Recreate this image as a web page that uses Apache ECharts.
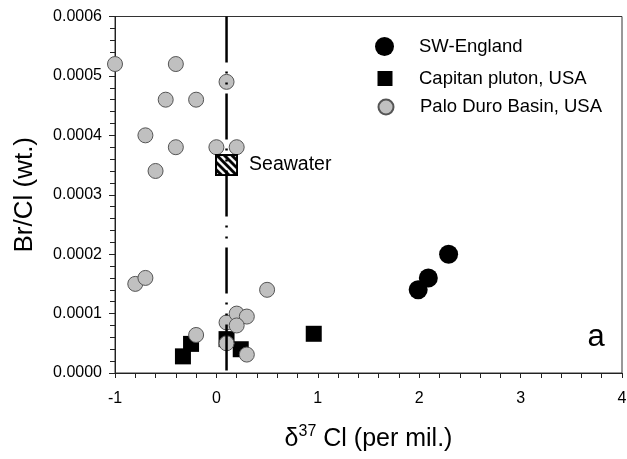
<!DOCTYPE html>
<html>

<head>
    <meta charset="UTF-8">
    <style type="text/css">
        body {
            margin: 0;
            padding: 0;
            overflow: hidden;
            background: #fff;
        }

        #chart {
            width: 627px;
            height: 459px;
            position: absolute
        }
    </style>
</head>

<body>
    <div id="chart"></div>
    <script src="https://cdn.jsdelivr.net/npm/echarts@6/dist/echarts.min.js"></script>
    <script>
        // data
        let SW_X = [1.99, 2.09, 2.29];
        let SW_Y = [0.00014, 0.00016, 0.0002];
        let CAP_X = [-0.33, -0.25, 0.1, 0.24, 0.96];
        let CAP_Y = [0.000028, 0.000049, 0.000057, 0.00004, 0.000066];
        let PALO_X = [-1.0, -0.4, 0.1, -0.5, -0.2, -0.7, -0.4, -0.6, 0.0, 0.2, -0.8, -0.7, 0.5, 0.1, 0.2, 0.3, 0.2, -0.2, 0.1, 0.3];
        let PALO_Y = [0.00052, 0.00052, 0.00049, 0.00046, 0.00046, 0.0004, 0.00038, 0.00034, 0.00038, 0.00038,
            0.00015, 0.00016, 0.00014, 0.000085, 0.0001, 0.000095, 0.00008, 0.000064, 0.00005, 0.000031];
        let SEAWATER_X = [0.1];
        let SEAWATER_Y = [0.00035];
        let NAMES = ['SW-England', 'Capitan pluton, USA', 'Palo Duro Basin, USA'];

        let FONT = 'Liberation Sans, Arial, sans-serif';

        function pairs(xs, ys) {
            return xs.map((x, i) => [x, ys[i]]);
        }

        // hatched box used as the seawater symbol
        function hatchBox(w, h) {
            let c = document.createElement('canvas');
            c.width = w;
            c.height = h;
            let ctx = c.getContext('2d');
            ctx.fillStyle = '#fff';
            ctx.fillRect(0, 0, w, h);
            ctx.strokeStyle = '#000';
            ctx.lineWidth = 3;
            for (let k = -h; k < w + h; k += 7.5) {
                ctx.beginPath();
                ctx.moveTo(k, 0);
                ctx.lineTo(k + h, h);
                ctx.stroke();
            }
            ctx.lineWidth = 2;
            ctx.strokeRect(1, 1, w - 2, h - 2);
            return c.toDataURL();
        }

        var myChart = echarts.init(document.getElementById('chart'));

        function legendItem(name, left, top, size, pad) {
            return {
                data: [name],
                left: left,
                top: top,
                padding: 0,
                itemWidth: size,
                itemHeight: size,
                textStyle: {
                    fontFamily: FONT,
                    fontSize: 18.5,
                    color: '#000',
                    padding: [0, 0, 0, pad]
                }
            };
        }

        let option = {
            animation: false,
            backgroundColor: '#fff',
            grid: {
                left: 115,
                right: 5,
                top: 16.5,
                bottom: 86,
                show: true,
                borderColor: '#333',
                borderWidth: 1,
                outerBoundsMode: 'none'
            },
            legend: [
                legendItem(NAMES[0], 375, 37, 19, 20),
                legendItem(NAMES[1], 377.5, 69, 15, 21.5),
                legendItem(NAMES[2], 377.5, 97.5, 15, 21.5)
            ],
            xAxis: {
                type: 'value',
                min: -1,
                max: 4,
                interval: 1,
                name: '{d|δ}{s|37}{d| Cl (per mil.)}',
                nameLocation: 'middle',
                nameGap: 51,
                nameTextStyle: {
                    rich: {
                        d: { fontFamily: FONT, fontSize: 25, lineHeight: 30, color: '#000' },
                        s: { fontFamily: FONT, fontSize: 16, lineHeight: 16, color: '#000', verticalAlign: 'top' }
                    }
                },
                axisLine: { onZero: false, lineStyle: { color: '#222', width: 1 } },
                axisTick: { length: 5, lineStyle: { color: '#222' } },
                minorTick: { show: true, splitNumber: 5, length: 5, lineStyle: { color: '#222' } },
                splitLine: { show: false },
                axisLabel: { fontFamily: FONT, fontSize: 16, color: '#000', margin: 18 }
            },
            yAxis: {
                type: 'value',
                min: 0,
                max: 0.0006,
                interval: 0.0001,
                name: 'Br/Cl (wt.)',
                nameLocation: 'middle',
                nameGap: 77,
                nameTextStyle: { fontFamily: FONT, fontSize: 26, color: '#000' },
                axisLine: { show: true, onZero: false, lineStyle: { color: '#222', width: 1 } },
                axisTick: { show: true, length: 6, lineStyle: { color: '#222' } },
                minorTick: { show: true, splitNumber: 5, length: 5, lineStyle: { color: '#222' } },
                splitLine: { show: false },
                axisLabel: {
                    fontFamily: FONT,
                    fontSize: 16,
                    color: '#000',
                    margin: 13,
                    formatter: function (v) {
                        return v.toFixed(4);
                    }
                }
            },
            graphic: [
                {
                    type: 'text',
                    x: 596,
                    y: 337,
                    style: {
                        text: 'a',
                        font: '31px ' + FONT,
                        fill: '#000',
                        align: 'center',
                        verticalAlign: 'middle'
                    }
                }
            ],
            series: [
                {
                    name: NAMES[0],
                    type: 'scatter',
                    symbol: 'circle',
                    symbolSize: 19,
                    data: pairs(SW_X, SW_Y),
                    itemStyle: { color: '#000', opacity: 1 }
                },
                {
                    name: NAMES[1],
                    type: 'scatter',
                    symbol: 'rect',
                    symbolSize: 16,
                    data: pairs(CAP_X, CAP_Y),
                    itemStyle: { color: '#000', opacity: 1 }
                },
                {
                    name: NAMES[2],
                    type: 'scatter',
                    symbol: 'circle',
                    symbolSize: 15,
                    data: pairs(PALO_X, PALO_Y),
                    itemStyle: { color: '#c0c0c0', borderColor: '#555', borderWidth: 1, opacity: 1 }
                },
                {
                    // seawater reference line, dash-dot-dot
                    type: 'line',
                    data: [[SEAWATER_X[0], 0.0006], [SEAWATER_X[0], 0]],
                    symbol: 'none',
                    silent: true,
                    lineStyle: { color: '#000', width: 2.5, type: [46, 9, 2, 9, 2, 9], cap: 'butt' }
                },
                {
                    type: 'scatter',
                    symbol: 'image://' + hatchBox(23, 22),
                    symbolSize: [23, 22],
                    data: pairs(SEAWATER_X, SEAWATER_Y),
                    itemStyle: { opacity: 1 },
                    label: {
                        show: true,
                        position: 'right',
                        distance: 11,
                        formatter: 'Seawater',
                        fontFamily: FONT,
                        fontSize: 19.5,
                        color: '#000',
                        opacity: 1
                    }
                }
            ]
        };
        myChart.setOption(option);
    </script>
</body>

</html>
